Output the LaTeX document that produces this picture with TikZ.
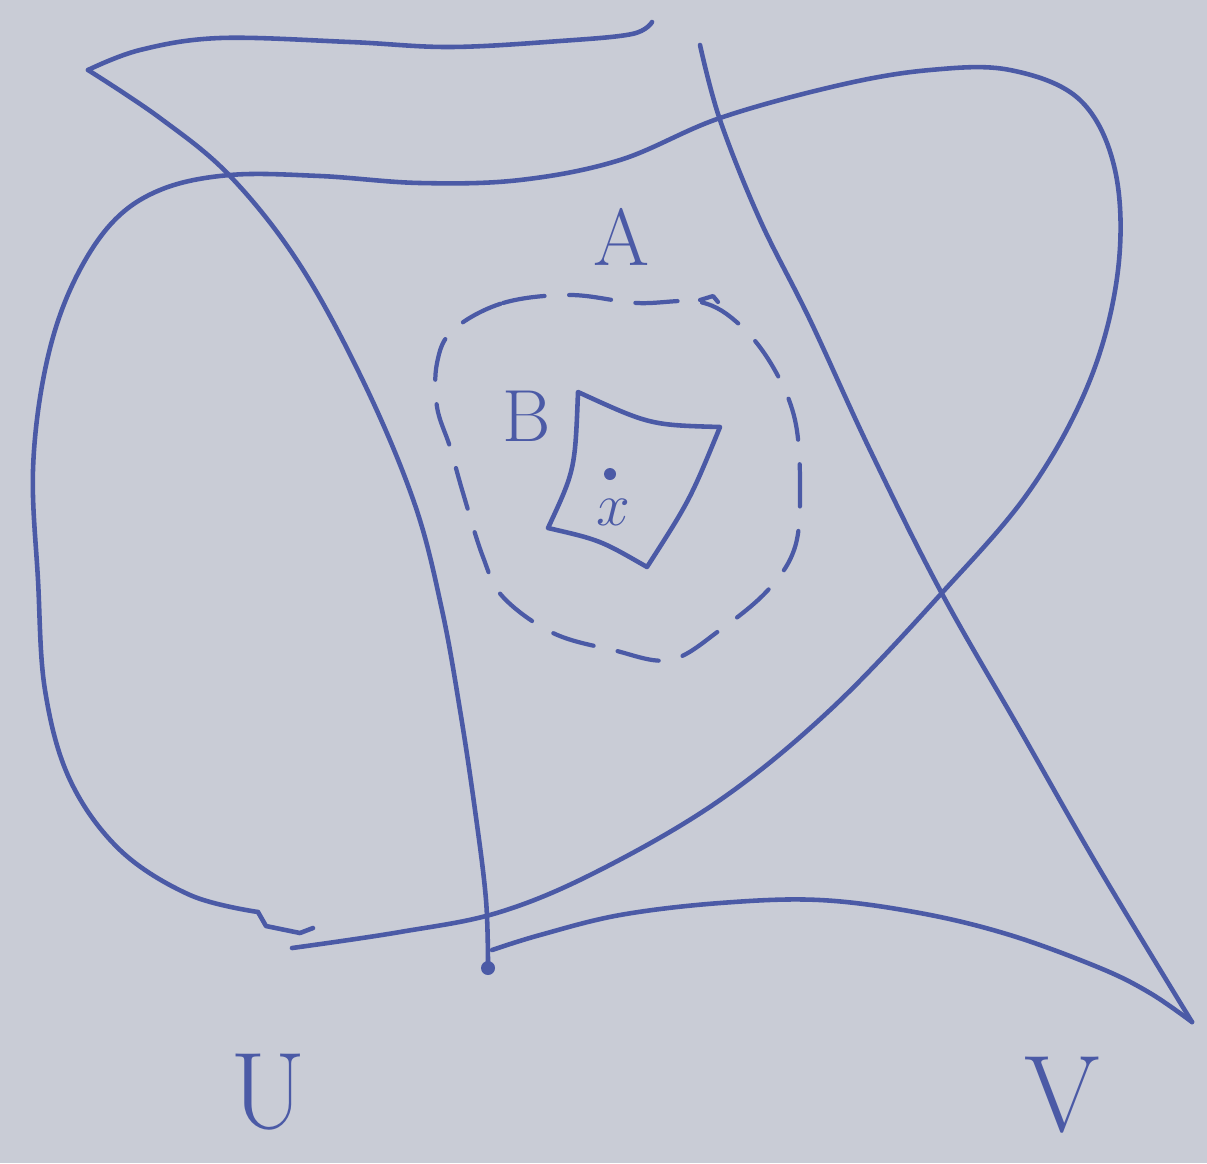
\documentclass[tikz,border=0pt]{standalone}
\definecolor{ink}{HTML}{4B5AA6}
\definecolor{paper}{HTML}{C9CCD6}
\begin{document}
\begin{tikzpicture}[x=0.01cm,y=-0.01cm,line cap=round,line join=round,
  pen/.style={draw=ink,line width=1.3pt},
  dashpen/.style={draw=ink,line width=1.2pt,dash pattern=on 12pt off 7pt},
  lbl/.style={text=ink,inner sep=0pt}]
\fill[paper] (0,0) rectangle (1207,1163);
\useasboundingbox (0,0) rectangle (1207,1163);

% region V: top edge
\draw[pen] plot[smooth,tension=0.6] coordinates {(652,22) (632,34) (560,41) (450,47) (350,42) (220,38) (140,50) (88,70)};
% region V: left edge
\draw[pen] plot[smooth,tension=0.6] coordinates {(88,70) (160,118) (230,176) (300,265) (365,385) (415,505) (442,610) (460,710) (475,810) (486,900) (488,970)};
\fill[ink] (488,968) circle (7);
% region V: bottom edge
\draw[pen] plot[smooth,tension=0.6] coordinates {(492,950) (540,935) (620,915) (720,903) (820,900) (920,913) (1010,935) (1100,968) (1150,993) (1192,1022)};
% region V: right edge
\draw[pen] plot[smooth,tension=0.6] coordinates {(700,45) (720,120) (760,220) (810,320) (870,450) (940,590) (1020,730) (1100,870) (1192,1022)};

% region U
\draw[pen] plot[smooth,tension=0.6] coordinates {(292,948) (400,932) (500,912) (600,870) (720,800) (830,710) (940,595) (1030,490) (1090,380) (1118,270) (1115,170) (1080,100) (1010,70) (930,70) (840,85) (720,118) (620,160) (520,180) (420,183) (320,176) (230,175) (160,190) (110,225) (70,290) (45,370) (33,470) (38,580) (45,690) (70,780) (120,850) (190,895) (258,912)};
\draw[pen] (258,912) -- (266,926) -- (300,933) -- (313,928);

% dashed neighbourhood
\draw[dashpen] plot[smooth cycle,tension=0.6] coordinates {(453,330) (503,303) (570,295) (637,303) (700,302) (740,325) (773,367) (795,420) (800,487) (795,547) (768,590) (720,630) (670,660) (613,650) (553,633) (503,597) (483,557) (463,493) (450,447) (437,407) (437,363)};
\draw[pen,line width=1.2pt] (700,300) -- (713,296) -- (718,302);

% small set B
\draw[pen] (578,392) .. controls (650,425) .. (720,427)
  .. controls (690,500) .. (647,567)
  .. controls (600,540) .. (548,528)
  .. controls (575,470) .. cycle;
\fill[ink] (610,474) circle (6);

% labels
\node[lbl,font=\fontsize{23}{26}\selectfont] (labA) at (622,237) {A};
\node[lbl,font=\fontsize{21}{24}\selectfont] (labB) at (527,416) {B};
\node[lbl,font=\fontsize{17}{19}\selectfont] (labx) at (613,512) {$x$};
\node[lbl,font=\fontsize{31}{34}\selectfont] (labU) at (268,1092) {U};
\node[lbl,font=\fontsize{31}{34}\selectfont] (labV) at (1062,1095) {V};
\end{tikzpicture}
\end{document}
